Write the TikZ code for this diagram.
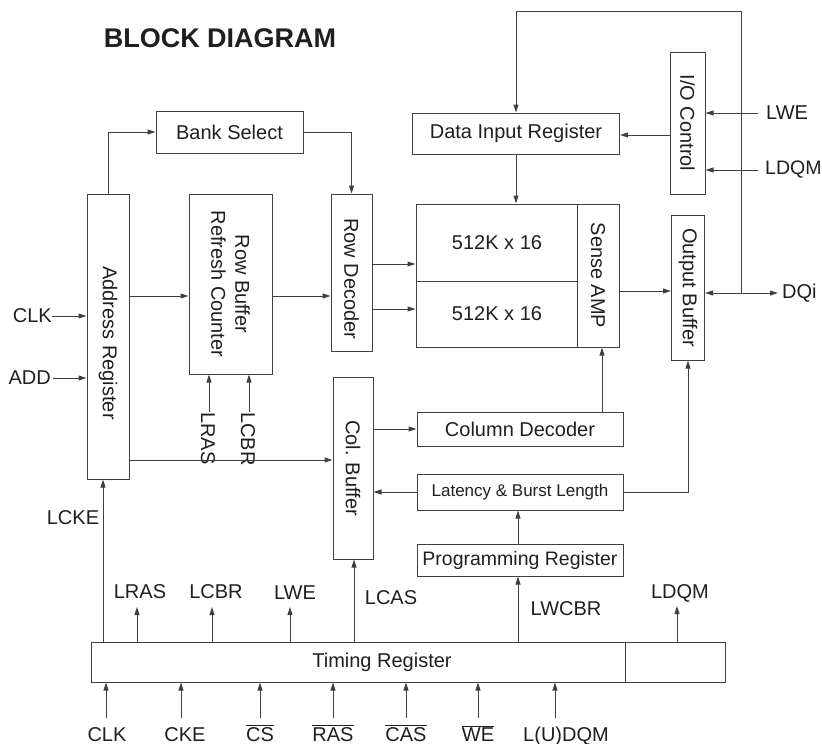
\documentclass[tikz,border=0pt]{standalone}
\usepackage{fontspec}
\setmainfont{Liberation Sans}
\usetikzlibrary{arrows.meta}
\begin{document}
\begin{tikzpicture}[x=1pt,y=-1pt,
  every node/.style={font=\fontsize{20}{24}\selectfont, text=black!88, inner sep=0pt},
  blk/.style={draw=black!75, line width=1pt, rectangle, inner sep=0pt},
  arr/.style={draw=black!75, line width=1pt, -{Triangle[length=8pt,width=5pt]}},
  biarr/.style={draw=black!75, line width=1pt, {Triangle[length=8pt,width=5pt]}-{Triangle[length=8pt,width=5pt]}},
  ln/.style={draw=black!75, line width=1pt},
  vt/.style={rotate=-90},
]
\useasboundingbox (0,0) rectangle (822,744);

% title
\node[font=\fontsize{27}{30}\selectfont\bfseries] (title) at (220,38) {BLOCK DIAGRAM};

% boxes
\node[blk, minimum width=147, minimum height=42] (bank) at (229.5,132) {Bank Select};
\node[blk, minimum width=42, minimum height=285] (ar) at (108,336.5) {};
\node[vt] at (108,343) {Address Register};
\node[blk, minimum width=83, minimum height=180] (rb) at (230.5,284) {};
\node[vt, align=center] at (rb) {Row Buffer\\Refresh Counter};
\node[blk, minimum width=41, minimum height=157] (rd) at (351.5,272.5) {};
\node[vt] at (351.5,279) {Row Decoder};
\node[blk, minimum width=207, minimum height=41] (dir) at (516,133.5) {Data Input Register};
\node[blk, minimum width=35, minimum height=142] (io) at (687.5,123) {};
\node[vt] at (io) {I/O Control};
\node[blk, minimum width=203, minimum height=143] (mem) at (517.5,275.5) {};
\node (m1) at (497,242.5) {512K x 16};
\node (m2) at (497,314) {512K x 16};
\node[vt] (sa) at (598,275.5) {Sense AMP};
\draw[ln] (mem.north -| 577,0) -- (mem.south -| 577,0);
\draw[ln] (mem.west |- 0,281) -- (577,281);
\node[blk, minimum width=33, minimum height=145] (ob) at (688,287.5) {};
\node[vt] at (ob) {Output Buffer};
\node[blk, minimum width=40, minimum height=182] (cb) at (353,468) {};
\node[vt] at (cb) {Col. Buffer};
\node[blk, minimum width=206, minimum height=34] (cd) at (520,429) {Column Decoder};
\node[blk, minimum width=206, minimum height=36, font=\fontsize{17}{20}\selectfont] (lat) at (520,492) {Latency \& Burst Length};
\node[blk, minimum width=206, minimum height=32, font=\fontsize{19.5}{22}\selectfont] (pr) at (520,560) {Programming Register};
\node[blk, minimum width=634, minimum height=40] (tr) at (408,662) {};
\node (trt) at (382,662) {Timing Register};
\draw[ln] (tr.north -| 625,0) -- (tr.south -| 625,0);

% connectors, top part
\draw[arr] (ar.north) |- (bank.west);
\draw[arr] (bank.east) -| (rd.north);
\coordinate (jn) at (741,293);
\coordinate (fb) at (741,11);
\draw[arr] (jn) -- (fb) -| (dir.north);
\draw[arr] (dir.south) -- (dir.south |- mem.north);
\draw[arr] (io.west |- 0,135) -- (dir.east |- 0,135);
\node[anchor=west] (lwe) at (766,113) {LWE};
\node[anchor=west, font=\fontsize{19.5}{22}\selectfont] (ldqm) at (765,170) {LDQM};
\draw[arr] ([xshift=-8pt]lwe.west) -- (io.east |- lwe.west);
\draw[arr] ([xshift=-7pt]ldqm.west) -- (io.east |- ldqm.west);

\draw[arr] (rd.east |- 0,264) -- (mem.west |- 0,264);
\draw[arr] (rd.east |- 0,309) -- (mem.west |- 0,309);
\draw[arr] (ar.east |- 0,296) -- (rb.west |- 0,296);
\draw[arr] (rb.east |- 0,296) -- (rd.west |- 0,296);
\draw[arr] (mem.east |- 0,291) -- (ob.west |- 0,291);
\node[anchor=west] (dqi) at (782,293) {DQi};
\draw[biarr] (ob.east |- dqi.west) -- ([xshift=-4pt]dqi.west);

\node[anchor=east] (clk) at (52,316) {CLK};
\node[anchor=east] (add) at (51,378) {ADD};
\draw[arr] (clk.east) -- (ar.west |- clk.east);
\draw[arr] ([xshift=2pt]add.east) -- (ar.west |- add.east);

\node[vt, anchor=west] (lrasv) at (208,412) {LRAS};
\node[vt, anchor=west] (lcbrv) at (248,412) {LCBR};
\draw[arr] (209,412) -- (rb.south -| 209,0);
\draw[arr] (249,412) -- (rb.south -| 249,0);

\draw[arr] (ar.east |- 0,460) -- (cb.west |- 0,460);
\draw[arr] (cb.east |- cd.west) -- (cd.west);
\draw[arr] (lat.west) -- (cb.east |- lat.west);
\draw[arr] (lat.east) -| (ob.south);
\draw[arr] (cd.north -| 602,0) -- (mem.south -| 602,0);
\draw[arr] (pr.north -| 518,0) -- (lat.south -| 518,0);
\draw[arr] (tr.north -| 518,0) -- (pr.south -| 518,0);

% timing register outputs
\draw[arr] (tr.north -| 103,0) -- (ar.south -| 103,0);
\node (lcke) at (73,518) {LCKE};
\node (lras) at (140,592) {LRAS};
\node (lcbr) at (216,592) {LCBR};
\node (lwe2) at (295,593) {LWE};
\node (lcas) at (391,598) {LCAS};
\node (lwcbr) at (566,609) {LWCBR};
\node (ldqm2) at (680,593) {LDQM};
\draw[arr] (tr.north -| 137,0) -- (137,607);
\draw[arr] (tr.north -| 212,0) -- (212,607);
\draw[arr] (tr.north -| 290,0) -- (290,607);
\draw[arr] (tr.north -| 354,0) -- (cb.south -| 354,0);
\draw[arr] (tr.north -| 677,0) -- (677,606);

% timing register inputs
\node[anchor=base] (iclk) at (107,741) {CLK};
\node[anchor=base] (icke) at (185,741) {CKE};
\node[anchor=base] (ics) at (260,741) {$\overline{\mbox{CS}}$};
\node[anchor=base] (iras) at (333,741) {$\overline{\mbox{RAS}}$};
\node[anchor=base] (icas) at (406,741) {$\overline{\mbox{CAS}}$};
\node[anchor=base] (iwe) at (478,741) {$\overline{\mbox{WE}}$};
\node[anchor=base] (idqm) at (566,741) {L(U)DQM};
\foreach \xx in {106,181,260,333,406,478,555} {
  \draw[arr] (\xx,718) -- (tr.south -| \xx,0);
}
\end{tikzpicture}
\end{document}
